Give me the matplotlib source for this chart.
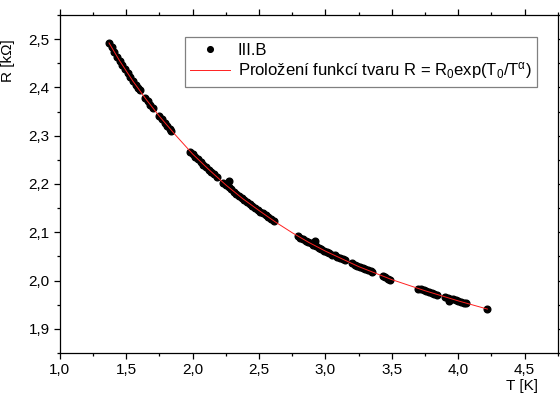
import matplotlib
matplotlib.use("Agg")
import matplotlib.pyplot as plt
from matplotlib.ticker import MultipleLocator, FuncFormatter

T_data = [
    1.37, 1.39, 1.41, 1.43, 1.45, 1.47, 1.49, 1.51, 1.53, 1.55, 1.57, 1.59, 1.60,
    1.64, 1.66, 1.68, 1.70,
    1.75, 1.77, 1.79, 1.81, 1.83, 1.84,
    1.98, 2.00, 2.02, 2.04, 2.06, 2.08, 2.10, 2.12, 2.14, 2.16, 2.18,
    2.23, 2.25, 2.27, 2.27, 2.29, 2.31, 2.33, 2.35, 2.37, 2.39, 2.41, 2.43,
    2.45, 2.47, 2.49, 2.51, 2.53, 2.55, 2.57, 2.59, 2.61,
    2.79, 2.81, 2.83, 2.85, 2.87, 2.89, 2.92, 2.91, 2.93, 2.95, 2.97, 2.99,
    3.01, 3.03, 3.05, 3.07, 3.09, 3.11, 3.13, 3.15,
    3.20, 3.22, 3.24, 3.26, 3.28, 3.30, 3.32, 3.34, 3.35,
    3.43, 3.45, 3.47, 3.49,
    3.70, 3.72, 3.74, 3.76, 3.78, 3.80, 3.82, 3.84,
    3.90, 3.92, 3.93, 3.94, 3.96, 3.98, 4.00, 4.02, 4.04, 4.06,
    4.22,
]
R_data = [
    2.492, 2.483, 2.474, 2.464, 2.455, 2.447, 2.438, 2.430, 2.421, 2.413, 2.405, 2.398, 2.394,
    2.379, 2.371, 2.364, 2.357,
    2.340, 2.334, 2.327, 2.320, 2.314, 2.310,
    2.267, 2.262, 2.256, 2.251, 2.245, 2.240, 2.235, 2.230, 2.225, 2.220, 2.215,
    2.203, 2.198, 2.206, 2.193, 2.189, 2.184, 2.180, 2.175, 2.171, 2.167, 2.163, 2.159,
    2.155, 2.151, 2.147, 2.143, 2.139, 2.135, 2.131, 2.127, 2.123,
    2.093, 2.089, 2.086, 2.083, 2.080, 2.077, 2.082, 2.074, 2.071, 2.068, 2.065, 2.062,
    2.060, 2.057, 2.054, 2.052, 2.049, 2.047, 2.044, 2.042,
    2.036, 2.033, 2.031, 2.028, 2.026, 2.024, 2.021, 2.019, 2.018,
    2.009, 2.007, 2.004, 2.002,
    1.983, 1.982, 1.980, 1.978, 1.976, 1.975, 1.973, 1.971,
    1.966, 1.964, 1.958, 1.962, 1.961, 1.959, 1.958, 1.956, 1.954, 1.953,
    1.941,
]

# fitted curve, read at a few points
T_fit = [1.37, 1.45, 1.55, 1.65, 1.75, 1.875, 2.0, 2.125, 2.25, 2.375, 2.5,
         2.625, 2.75, 2.875, 3.0, 3.25, 3.5, 3.75, 4.0, 4.22]
R_fit = [2.492, 2.455, 2.413, 2.375, 2.340, 2.300, 2.262, 2.229, 2.198, 2.170, 2.145,
         2.121, 2.099, 2.079, 2.061, 2.029, 2.002, 1.979, 1.958, 1.941]

plt.rcParams["font.family"] = ["Liberation Sans", "DejaVu Sans"]
plt.rcParams["mathtext.fontset"] = "custom"
plt.rcParams["mathtext.rm"] = "Liberation Sans"
plt.rcParams["mathtext.it"] = "Liberation Sans"
plt.rcParams["mathtext.default"] = "regular"

fig = plt.figure(figsize=(5.6, 3.94), dpi=100)
ax = fig.add_axes([0.107, 0.104, 0.889, 0.858])

ax.plot(T_data, R_data, "o", color="black", markersize=4.8, label="III.B", zorder=2)
ax.plot(T_fit, R_fit, "-", color="#ff2020", linewidth=0.7,
        label=r"Proložení funkcí tvaru R = R$_0$exp(T$_0$/T$^{\alpha}$)", zorder=3)

ax.set_xlim(1.0, 4.75)
ax.set_ylim(1.85, 2.55)

ax.xaxis.set_major_locator(MultipleLocator(0.5))
ax.xaxis.set_minor_locator(MultipleLocator(0.25))
ax.yaxis.set_major_locator(MultipleLocator(0.1))
ax.yaxis.set_minor_locator(MultipleLocator(0.05))
comma = FuncFormatter(lambda v, p: f"{v:.1f}".replace(".", ","))
ax.xaxis.set_major_formatter(comma)
ax.yaxis.set_major_formatter(comma)

ax.tick_params(which="both", direction="out", top=True, right=True,
               labeltop=False, labelright=False, labelsize=11, width=0.9)
ax.tick_params(which="major", length=4)
ax.tick_params(which="minor", length=2.5)
for s in ax.spines.values():
    s.set_linewidth(0.9)

ax.set_xlabel("T [K]", fontsize=11)
ax.xaxis.set_label_coords(0.928, -0.078)
ax.set_ylabel("R [kΩ]", fontsize=11)
ax.yaxis.set_label_coords(-0.09, 0.865)

leg = ax.legend(loc="upper right", bbox_to_anchor=(0.976, 0.959), fontsize=12,
                fancybox=False, framealpha=1, edgecolor="#808080",
                handlelength=2.4, handletextpad=0.45, borderpad=0.35,
                labelspacing=0.15, markerscale=0.85)
leg.get_frame().set_linewidth(0.9)

fig.savefig("out.png", dpi=100)
